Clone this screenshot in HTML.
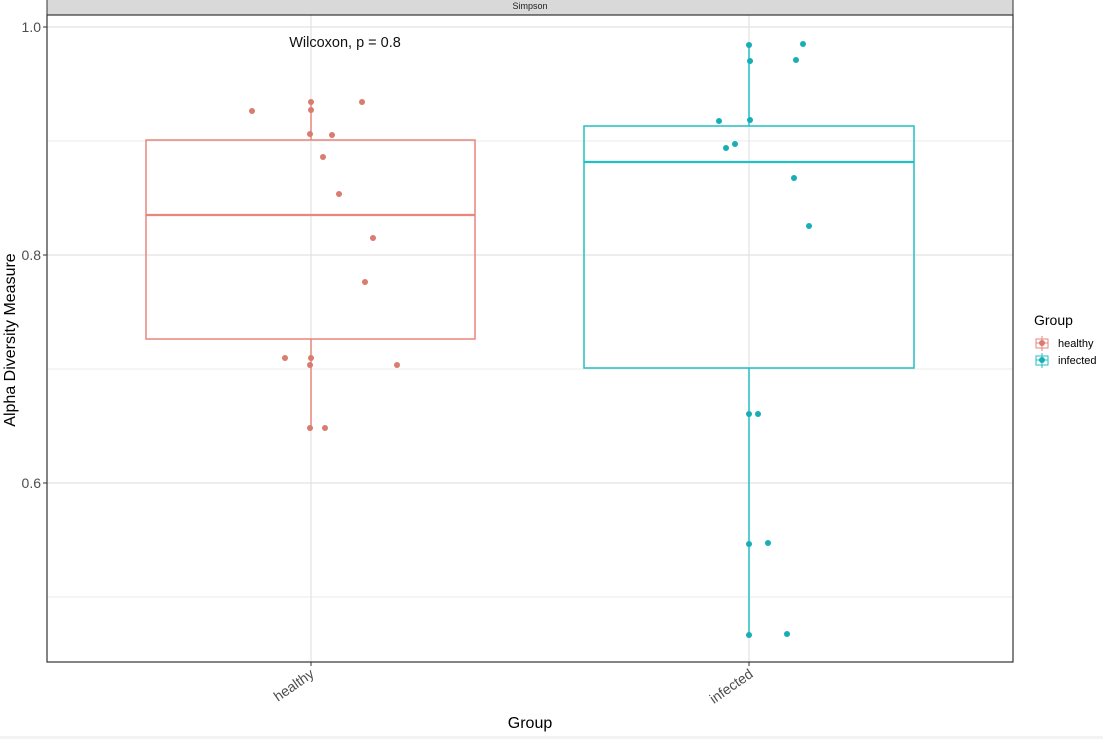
<!DOCTYPE html>
<html><head><style>body{margin:0;background:#fff}svg text{font-family:"Liberation Sans",sans-serif}</style></head>
<body>
<svg width="1103" height="739" xmlns="http://www.w3.org/2000/svg">
<rect x="0" y="0" width="1103" height="739" fill="#fff"/>
<rect x="0" y="736" width="1103" height="3" fill="#f3f3f3"/>
<!-- strip -->
<rect x="47" y="-1" width="966" height="16" fill="#d9d9d9" stroke="#333" stroke-width="1"/>
<text x="530" y="9" font-size="9" text-anchor="middle" fill="#1a1a1a">Simpson</text>
<!-- grid -->
<g stroke="#ebebeb" stroke-width="1">
<line x1="47" x2="1013" y1="141" y2="141"/><line x1="47" x2="1013" y1="369" y2="369"/><line x1="47" x2="1013" y1="597" y2="597"/>
</g>
<g stroke="#e2e2e2" stroke-width="1.2">
<line x1="47" x2="1013" y1="27" y2="27"/><line x1="47" x2="1013" y1="255" y2="255"/><line x1="47" x2="1013" y1="483" y2="483"/>
<line x1="311" x2="311" y1="15" y2="662"/><line x1="749" x2="749" y1="15" y2="662"/>
</g>
<!-- healthy box -->
<g stroke="#E8867C" stroke-width="1.5" fill="none">
<line x1="311" x2="311" y1="101" y2="140"/><line x1="311" x2="311" y1="339" y2="428"/>
<rect x="146" y="140" width="329" height="199"/>
<line x1="146" x2="475" y1="215" y2="215" stroke-width="2.2"/>
</g>
<g fill="#D97B6F">
<circle cx="252" cy="111" r="3"/><circle cx="311" cy="102" r="3"/><circle cx="311" cy="110" r="3"/><circle cx="362" cy="102" r="3"/>
<circle cx="310" cy="134" r="3"/><circle cx="332" cy="135" r="3"/><circle cx="323" cy="157" r="3"/><circle cx="339" cy="194" r="3"/>
<circle cx="373" cy="238" r="3"/><circle cx="365" cy="282" r="3"/><circle cx="285" cy="358" r="3"/><circle cx="311" cy="358" r="3"/>
<circle cx="310" cy="365" r="3"/><circle cx="397" cy="365" r="3"/><circle cx="310" cy="428" r="3"/><circle cx="325" cy="428" r="3"/>
</g>
<!-- infected box -->
<g stroke="#22BFC4" stroke-width="1.5" fill="none">
<line x1="749" x2="749" y1="45" y2="126"/><line x1="749" x2="749" y1="368" y2="634"/>
<rect x="584" y="126" width="330" height="242"/>
<line x1="584" x2="914" y1="162" y2="162" stroke-width="2.2"/>
</g>
<g fill="#17AEB6">
<circle cx="749" cy="45" r="3"/><circle cx="803" cy="44" r="3"/><circle cx="750" cy="61" r="3"/><circle cx="796" cy="60" r="3"/>
<circle cx="719" cy="121" r="3"/><circle cx="750" cy="120" r="3"/><circle cx="726" cy="148" r="3"/><circle cx="735" cy="144" r="3"/>
<circle cx="794" cy="178" r="3"/><circle cx="809" cy="226" r="3"/><circle cx="749" cy="414" r="3"/><circle cx="758" cy="414" r="3"/>
<circle cx="749" cy="544" r="3"/><circle cx="768" cy="543" r="3"/><circle cx="749" cy="635" r="3"/><circle cx="787" cy="634" r="3"/>
</g>
<!-- panel border -->
<rect x="47" y="15" width="966" height="647" fill="none" stroke="#333" stroke-width="1.2"/>
<!-- ticks -->
<g stroke="#333"><line x1="43" x2="47" y1="27" y2="27"/><line x1="43" x2="47" y1="255" y2="255"/><line x1="43" x2="47" y1="483" y2="483"/>
<line x1="311" x2="311" y1="662" y2="666"/><line x1="749" x2="749" y1="662" y2="666"/></g>
<g font-size="14" fill="#4d4d4d" text-anchor="end">
<text x="41" y="32">1.0</text><text x="41" y="260">0.8</text><text x="41" y="488">0.6</text>
</g>
<text x="345" y="47" font-size="14.5" text-anchor="middle" fill="#111">Wilcoxon, p = 0.8</text>
<g font-size="14" fill="#4d4d4d" text-anchor="end">
<text transform="translate(315,676) rotate(-35)">healthy</text>
<text transform="translate(754,676) rotate(-35)">infected</text>
</g>
<text x="530" y="728" font-size="16" text-anchor="middle" fill="#000">Group</text>
<text transform="translate(15,340) rotate(-90)" font-size="16" text-anchor="middle" fill="#000">Alpha Diversity Measure</text>
<!-- legend -->
<text x="1034" y="325" font-size="14" fill="#000">Group</text>
<g stroke="#E8867C" fill="none"><rect x="1036" y="339" width="12" height="9"/><line x1="1042" x2="1042" y1="336" y2="351"/><line x1="1036" x2="1048" y1="343" y2="343"/></g>
<circle cx="1042" cy="343" r="3" fill="#D97B6F"/>
<g stroke="#22BFC4" fill="none"><rect x="1036" y="356" width="12" height="9"/><line x1="1042" x2="1042" y1="353" y2="368"/><line x1="1036" x2="1048" y1="360" y2="360"/></g>
<circle cx="1042" cy="360" r="3" fill="#17AEB6"/>
<text x="1058" y="347" font-size="11" fill="#000">healthy</text>
<text x="1058" y="364" font-size="11" fill="#000">infected</text>
</svg>
</body></html>
